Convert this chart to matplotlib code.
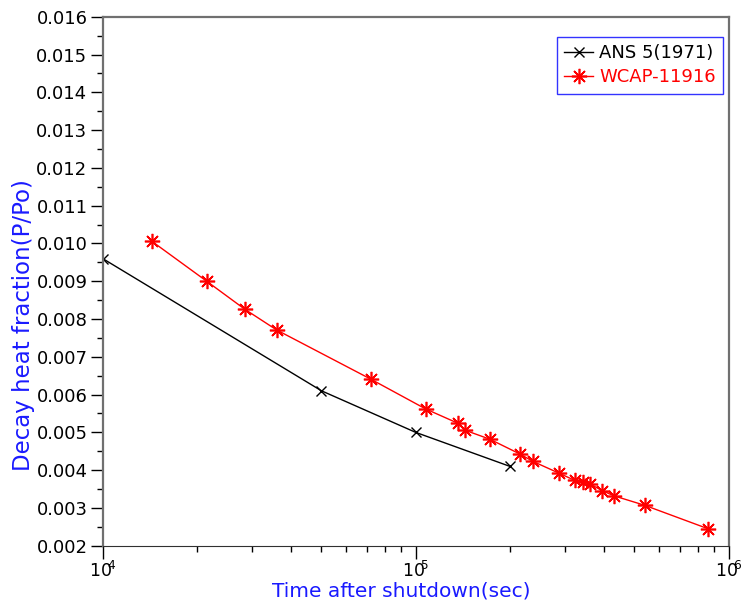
import numpy as np
import matplotlib
matplotlib.use('Agg')
import matplotlib.pyplot as plt
from matplotlib.ticker import MultipleLocator, FormatStrFormatter, LogLocator, NullFormatter, FuncFormatter

plt.rcParams['font.family'] = ['DejaVu Sans']

# ANS 5 (1971) decay heat curve
ans_time = [1.0e4, 5.0e4, 1.0e5, 2.0e5]
ans_frac = [0.0096, 0.0061, 0.0050, 0.0041]

# WCAP-11916 decay heat curve
wcap_time = [14340, 21490, 28430, 35960, 71800, 107600, 136500, 143400, 172400,
             214900, 237100, 287000, 322100, 342300, 359600, 393700, 430000,
             539000, 858600]
wcap_frac = [0.01006, 0.00900, 0.00826, 0.00771, 0.00641, 0.00562, 0.00524,
             0.00506, 0.00482, 0.00443, 0.00423, 0.00392, 0.00373, 0.00368,
             0.00364, 0.00346, 0.00332, 0.00307, 0.00245]

fig = plt.figure(figsize=(7.46, 6.09), dpi=100)
ax = fig.add_axes([0.1377, 0.1039, 0.8391, 0.8686])

ax.plot(ans_time, ans_frac, color='black', lw=1, marker='x', ms=7, mew=1,
        label='ANS 5(1971)')
ax.plot(wcap_time, wcap_frac, color='red', lw=1, marker=(8, 2, 0), ms=11, mew=1.2,
        label='WCAP-11916')

ax.set_xscale('log')
ax.set_xlim(1e4, 1e6)
ax.set_ylim(0.002, 0.016)
ax.yaxis.set_major_locator(MultipleLocator(0.001))
ax.yaxis.set_minor_locator(MultipleLocator(0.0005))
ax.yaxis.set_major_formatter(FormatStrFormatter('%.3f'))
ax.xaxis.set_major_locator(LogLocator(base=10))
ax.xaxis.set_minor_locator(LogLocator(base=10, subs=np.arange(2, 10)))
ax.xaxis.set_minor_formatter(NullFormatter())
ax.xaxis.set_major_formatter(FuncFormatter(
    lambda v, p: r'$\mathregular{10^{\!\!%d}}$' % round(np.log10(v))))

ax.tick_params(which='major', direction='out', length=9, width=1, labelsize=13, pad=2)
ax.tick_params(which='minor', direction='out', length=4.5, width=1)
ax.tick_params(axis='x', which='major', labelsize=12.5)

for side in ['top', 'left', 'right']:
    ax.spines[side].set_color('#707070')
    ax.spines[side].set_linewidth(1.6)
ax.spines['bottom'].set_color('#303030')

ax.set_xlabel('Time after shutdown(sec)', color='#1a1aff', fontsize=14.5)
ax.xaxis.set_label_coords(0.4765, -0.067)
ax.set_ylabel('Decay heat fraction(P/Po)', color='#1a1aff', fontsize=16.5)
ax.yaxis.set_label_coords(-0.108, 0.417)

leg = ax.legend(loc='upper left', bbox_to_anchor=(0.7257, 0.962), borderaxespad=0,
                fancybox=False, edgecolor='blue', fontsize=13, labelcolor='linecolor',
                handlelength=1.6, handletextpad=0.35, borderpad=0.4, labelspacing=0.35)
leg.get_frame().set_linewidth(1)

fig.savefig('out.png', dpi=100)
